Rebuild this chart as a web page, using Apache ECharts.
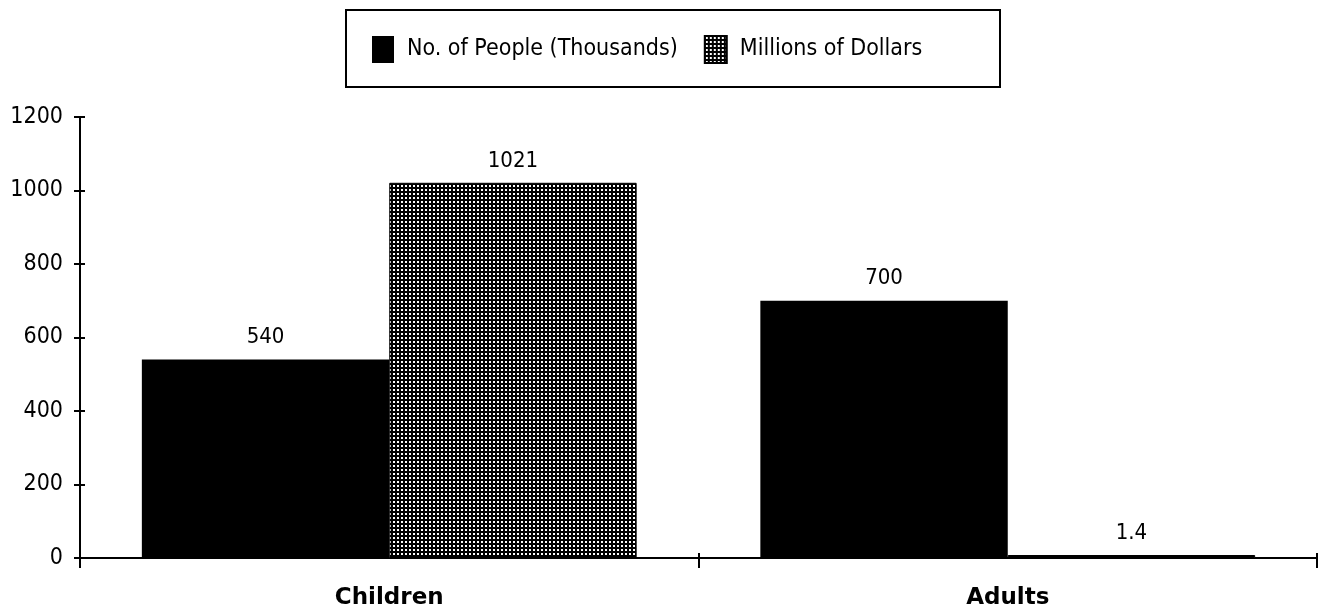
<!DOCTYPE html>
<html>
<head>
<meta charset="utf-8">
<script src="https://cdn.jsdelivr.net/npm/echarts@6/dist/echarts.min.js"></script>
<style>
  html, body { margin: 0; padding: 0; background: #fff; }
  #chart { width: 1325px; height: 615px; }
</style>
</head>
<body>
<div id="chart"></div>
<script>
// Chart data
const categories = ['Children', 'Adults'];
const seriesNames = ['No. of People (Thousands)', 'Millions of Dollars'];
const peopleThousands = [540, 700];
const millionsOfDollars = [1021, 1.4];
const yTicks = [0, 200, 400, 600, 800, 1000, 1200];

// Stippled fill: black ground with a regular grid of white dots
function makeStipple() {
  const c = document.createElement('canvas');
  c.width = 4; c.height = 4;
  const g = c.getContext('2d');
  g.fillStyle = '#000';
  g.fillRect(0, 0, 4, 4);
  g.fillStyle = '#fff';
  g.fillRect(1, 1, 2, 2);
  return c;
}
const stipple = { image: makeStipple(), repeat: 'repeat' };

const FONT = '"DejaVu Sans Condensed", "DejaVu Sans", sans-serif';
const BOLD_FONT = '"DejaVu Sans", sans-serif';

const chart = echarts.init(document.getElementById('chart'), null, { renderer: 'canvas' });

const labelStyle = {
  show: true,
  position: 'top',
  distance: 11,
  color: '#000',
  fontFamily: FONT,
  fontSize: 22
};

const yMin = yTicks[0];
const yMax = yTicks[yTicks.length - 1];
const yStep = yTicks[1] - yTicks[0];

chart.setOption({
  animation: false,
  backgroundColor: '#fff',
  graphic: [{
    type: 'rect',
    shape: { x: 346, y: 10, width: 654, height: 77 },
    style: { fill: '#fff', stroke: '#000', lineWidth: 2 },
    z: -1
  }],
  legend: {
    left: 367,
    top: 30,
    itemWidth: 22,
    itemHeight: 27,
    itemGap: 26,
    textStyle: { fontFamily: FONT, fontSize: 23, color: '#000', padding: [0, 0, 0, 8] },
    data: [
      { name: seriesNames[0], icon: 'rect' },
      { name: seriesNames[1], icon: 'rect' }
    ]
  },
  grid: { left: 80, right: 8, top: 117, bottom: 57 },
  xAxis: [
    {
      type: 'category',
      data: categories,
      axisLine: { lineStyle: { color: '#000', width: 2 } },
      axisTick: { show: true, length: 10, lineStyle: { color: '#000', width: 2 } },
      axisLabel: {
        margin: 29,
        color: '#000',
        fontFamily: BOLD_FONT,
        fontSize: 23,
        fontWeight: 'bold'
      }
    },
    {
      // inner half of the crossing ticks
      type: 'category',
      data: categories,
      position: 'bottom',
      axisLine: { show: false },
      axisTick: { show: true, inside: true, length: 5, lineStyle: { color: '#000', width: 2 } },
      axisLabel: { show: false }
    }
  ],
  yAxis: [
    {
      type: 'value',
      min: yMin,
      max: yMax,
      interval: yStep,
      splitLine: { show: false },
      axisLine: { show: true, lineStyle: { color: '#000', width: 2 } },
      axisTick: { show: true, length: 6, lineStyle: { color: '#000', width: 2 } },
      axisLabel: {
        margin: 17,
        color: '#000',
        fontFamily: FONT,
        fontSize: 23,
        formatter: (v) => String(v)
      }
    },
    {
      // inner half of the crossing ticks
      type: 'value',
      position: 'left',
      min: yMin,
      max: yMax,
      interval: yStep,
      splitLine: { show: false },
      axisLine: { show: false },
      axisTick: { show: true, inside: true, length: 5, lineStyle: { color: '#000', width: 2 } },
      axisLabel: { show: false }
    }
  ],
  series: [
    {
      name: seriesNames[0],
      type: 'bar',
      data: peopleThousands,
      barGap: '0%',
      barCategoryGap: '20%',
      itemStyle: { color: '#000' },
      label: labelStyle
    },
    {
      name: seriesNames[1],
      type: 'bar',
      data: millionsOfDollars,
      barGap: '0%',
      barCategoryGap: '20%',
      barMinHeight: 3,
      itemStyle: { color: stipple, borderColor: '#000', borderWidth: 1 },
      label: labelStyle
    }
  ]
});
</script>
</body>
</html>
